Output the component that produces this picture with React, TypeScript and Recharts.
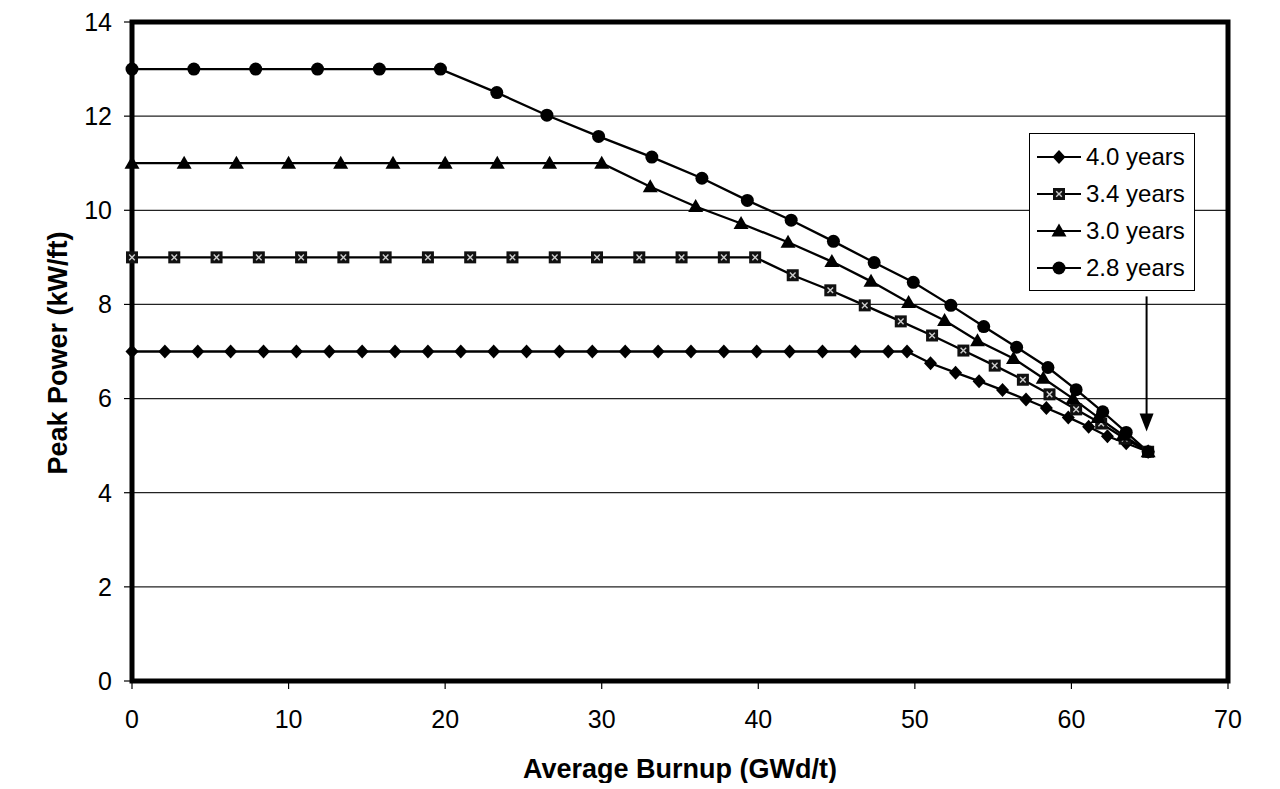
import React from 'react'
import {
  LineChart,
  Line,
  XAxis,
  YAxis,
  CartesianGrid,
  ReferenceArea,
  ReferenceLine,
  ReferenceDot,
  Label,
} from 'recharts'

// burnup (GWd/t) and peak power (kW/ft)
const burnup40 = [
  0, 2.1, 4.2, 6.3, 8.4, 10.5, 12.6, 14.7, 16.8, 18.9, 21.0, 23.1, 25.2, 27.3, 29.4, 31.5, 33.6,
  35.7, 37.8, 39.9, 42.0, 44.1, 46.2, 48.3, 49.5, 51.0, 52.6, 54.1, 55.6, 57.1, 58.4, 59.8, 61.1,
  62.3, 63.5, 64.9,
]
const power40 = [
  7, 7, 7, 7, 7, 7, 7, 7, 7, 7, 7, 7, 7, 7, 7, 7, 7, 7, 7, 7, 7, 7, 7, 7, 7, 6.75, 6.55, 6.37,
  6.18, 5.98, 5.8, 5.6, 5.4, 5.2, 5.05, 4.87,
]

const burnup34 = [
  0, 2.7, 5.4, 8.1, 10.8, 13.5, 16.2, 18.9, 21.6, 24.3, 27.0, 29.7, 32.4, 35.1, 37.8, 39.8, 42.2,
  44.6, 46.8, 49.1, 51.1, 53.1, 55.1, 56.9, 58.6, 60.3, 61.9, 63.4, 64.9,
]
const power34 = [
  9, 9, 9, 9, 9, 9, 9, 9, 9, 9, 9, 9, 9, 9, 9, 9, 8.62, 8.3, 7.98, 7.64, 7.34, 7.02, 6.7, 6.4,
  6.09, 5.77, 5.47, 5.15, 4.87,
]

const burnup30 = [
  0, 3.33, 6.67, 10, 13.33, 16.67, 20, 23.33, 26.67, 30, 33.1, 36.0, 38.9, 41.9, 44.7, 47.2, 49.6,
  51.9, 54.0, 56.3, 58.2, 60.1, 61.7, 63.3, 64.9,
]
const power30 = [
  11, 11, 11, 11, 11, 11, 11, 11, 11, 11, 10.5, 10.08, 9.72, 9.32, 8.91, 8.49, 8.04, 7.66, 7.23,
  6.85, 6.43, 6.0, 5.6, 5.22, 4.87,
]

const burnup28 = [
  0, 3.95, 7.9, 11.85, 15.8, 19.7, 23.3, 26.5, 29.8, 33.2, 36.4, 39.3, 42.1, 44.8, 47.4, 49.9,
  52.3, 54.4, 56.5, 58.5, 60.3, 62.0, 63.5, 64.9,
]
const power28 = [
  13, 13, 13, 13, 13, 13, 12.5, 12.02, 11.57, 11.13, 10.68, 10.21, 9.79, 9.34, 8.89, 8.47, 7.98,
  7.53, 7.09, 6.66, 6.19, 5.72, 5.28, 4.87,
]

const seriesNames = ['4.0 years', '3.4 years', '3.0 years', '2.8 years']
const xTicks = [0, 10, 20, 30, 40, 50, 60, 70]
const yTicks = [0, 2, 4, 6, 8, 10, 12, 14]

const arrowX = 64.8
const arrowTop = 8.17
const arrowTip = 5.3

const zip = (xs: number[], ys: number[]) => xs.map((x, i) => ({ x, y: ys[i] }))

const FONT = '"Liberation Sans", Arial, sans-serif'

const Diamond = ({ cx, cy }: { cx: number; cy: number }) => (
  <path d={`M${cx},${cy - 7}L${cx + 6.5},${cy}L${cx},${cy + 7}L${cx - 6.5},${cy}Z`} fill="#000" />
)

const Square = ({ cx, cy }: { cx: number; cy: number }) => (
  <g>
    <rect x={cx - 6} y={cy - 6} width={12} height={12} fill="#111" />
    <path
      d={`M${cx - 2.8},${cy - 2.8}L${cx + 2.8},${cy + 2.8}M${cx + 2.8},${cy - 2.8}L${cx - 2.8},${cy + 2.8}`}
      stroke="#ccc"
      strokeWidth={1.4}
    />
  </g>
)

const Triangle = ({ cx, cy }: { cx: number; cy: number }) => (
  <path d={`M${cx},${cy - 7.5}L${cx + 7.5},${cy + 5.5}L${cx - 7.5},${cy + 5.5}Z`} fill="#000" />
)

const Circle = ({ cx, cy }: { cx: number; cy: number }) => <circle cx={cx} cy={cy} r={6.5} fill="#000" />

const markers = [Diamond, Square, Triangle, Circle]

const dotFor = (idx: number) => (props: any) => {
  const M = markers[idx]
  return (
    <g key={`m-${idx}-${props.index}`}>
      <M cx={props.cx} cy={props.cy} />
    </g>
  )
}

const ArrowHead = (props: any) => {
  const { cx, cy } = props
  return <path d={`M${cx - 7},${cy - 18}L${cx + 7},${cy - 18}L${cx},${cy}Z`} fill="#000" />
}

function ChartLegend() {
  return (
    <div
      style={{
        position: 'absolute',
        left: 1021,
        top: 125,
        width: 152,
        border: '1.5px solid #000',
        background: '#fff',
        padding: '4px 6px 4px 6px',
        fontFamily: FONT,
        fontSize: 24,
        color: '#000',
      }}
    >
      {seriesNames.map((name, i) => {
        const M = markers[i]
        return (
          <div key={name} style={{ display: 'flex', alignItems: 'center', height: 37 }}>
            <svg width={46} height={20} style={{ marginRight: 4 }}>
              <line x1={1} y1={10} x2={45} y2={10} stroke="#000" strokeWidth={2.2} />
              <M cx={23} cy={10} />
            </svg>
            <span>{name}</span>
          </div>
        )
      })}
    </div>
  )
}

export default function App() {
  const series = [
    zip(burnup40, power40),
    zip(burnup34, power34),
    zip(burnup30, power30),
    zip(burnup28, power28),
  ]

  return (
    <div style={{ position: 'relative', width: 1264, height: 775 }}>
      <LineChart
        width={1264}
        height={775}
        margin={{ top: 14, right: 44, bottom: 42, left: 0 }}
        style={{ fontFamily: FONT }}
      >
        <CartesianGrid horizontal vertical={false} stroke="#222" strokeWidth={1.2} />
        <XAxis
          type="number"
          dataKey="x"
          domain={[0, 70]}
          ticks={xTicks}
          axisLine={false}
          tickLine={{ stroke: '#000', strokeWidth: 1.2 }}
          tickSize={8}
          tickMargin={21}
          height={60}
          tick={{ fill: '#000', fontSize: 25 }}
          allowDuplicatedCategory={false}
        >
          <Label
            content={() => (
              <text
                x={672}
                y={770}
                textAnchor="middle"
                fontFamily={FONT}
                fontSize={27}
                fontWeight="bold"
                fill="#000"
              >
                Average Burnup (GWd/t)
              </text>
            )}
          />
        </XAxis>
        <YAxis
          type="number"
          domain={[0, 14]}
          ticks={yTicks}
          axisLine={false}
          tickLine={{ stroke: '#000', strokeWidth: 1.2 }}
          tickSize={8}
          tickMargin={12}
          width={124}
          tick={{ fill: '#000', fontSize: 25 }}
        >
          <Label
            content={() => (
              <text
                x={50}
                y={345}
                transform="rotate(-90 50 345)"
                textAnchor="middle"
                dominantBaseline="central"
                fontFamily={FONT}
                fontSize={27}
                fontWeight="bold"
                fill="#000"
              >
                Peak Power (kW/ft)
              </text>
            )}
          />
        </YAxis>
        <ReferenceArea x1={0} x2={70} y1={0} y2={14} fill="none" stroke="#000" strokeWidth={5} />
        {series.map((data, i) => (
          <Line
            key={seriesNames[i]}
            name={seriesNames[i]}
            data={data}
            dataKey="y"
            stroke="#000"
            strokeWidth={2.3}
            dot={dotFor(i)}
            activeDot={false}
            isAnimationActive={false}
          />
        ))}
        <ReferenceLine
          segment={[
            { x: arrowX, y: arrowTop },
            { x: arrowX, y: arrowTip + 0.2 },
          ]}
          stroke="#000"
          strokeWidth={2}
        />
        <ReferenceDot x={arrowX} y={arrowTip} r={1} shape={ArrowHead} />
      </LineChart>
      <ChartLegend />
    </div>
  )
}
